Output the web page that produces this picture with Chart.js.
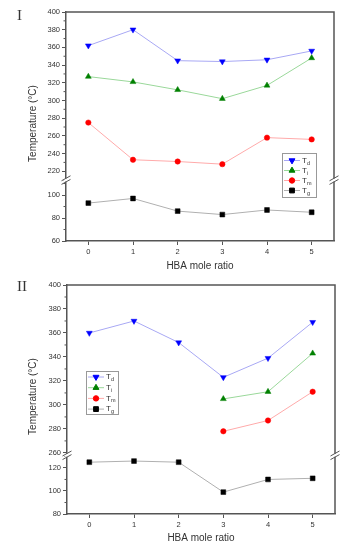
<!DOCTYPE html>
<html>
<head>
<meta charset="utf-8">
<script src="https://cdn.jsdelivr.net/npm/chart.js@4.4.1/dist/chart.umd.min.js"></script>
<style>
  html, body { margin: 0; padding: 0; background: #fff; }
  .panel { position: relative; width: 348px; height: 275px; }
</style>
</head>
<body>
<div class="panel"><canvas id="chartI" width="348" height="275"></canvas></div>
<div class="panel"><canvas id="chartII" width="348" height="275"></canvas></div>
<script>
// HBA mole ratio (x categories)
const ratios = ['0', '1', '2', '3', '4', '5'];

// panel I
const tdI = [362, 380, 345, 344, 346, 356];
const tiI = [327, 321, 312, 302, 317, 348];
const tmI = [275, 233, 231, 228, 258, 256];
const tgI = [93, 97, 86, 83, 87, 85];

// panel II
const tdII = [360, 370, 352, 323, 339, 369];
const tiII = [null, null, null, 305, 311, 343];
const tmII = [null, null, null, 278, 287, 311];
const tgII = [125, 126, 125, 99, 110, 111];

const legendSubs = ['d', 'i', 'm', 'g'];

const axisColor = '#555';
const textColor = '#333';
const tickFont = { family: 'Liberation Sans, Arial, sans-serif', size: 7.5 };

const styles = [
    { line: '#a8a8f4', pt: '#0000ff', shape: 'triangle', rot: 180, r: 3.4 },
    { line: '#9ad89a', pt: '#008000', shape: 'triangle', rot: 0, r: 3.4 },
    { line: '#ffaaaa', pt: '#ff0000', shape: 'circle', rot: 0, r: 2.7 },
    { line: '#b0b0b0', pt: '#000000', shape: 'rect', rot: 0, r: 3.4 }
];

function makeDataset(values, i, axis) {
    const s = styles[i];
    return {
        label: 'T' + legendSubs[i],
        data: values,
        yAxisID: axis,
        borderColor: s.line,
        borderWidth: 1,
        backgroundColor: s.pt,
        pointBackgroundColor: s.pt,
        pointBorderColor: s.pt,
        pointBorderWidth: 0.5,
        pointStyle: s.shape,
        pointRotation: s.rot,
        pointRadius: s.r,
        spanGaps: false
    };
}

// frame, axis breaks, minor ticks, y title, panel label, legend
const decorPlugin = {
    id: 'decor',
    afterDraw(chart, args, opts) {
        const ctx = chart.ctx;
        const a = chart.chartArea;
        const up = chart.scales.yUp;
        const lo = chart.scales.yLo;
        ctx.save();

        // top + right frame
        ctx.strokeStyle = axisColor;
        ctx.lineWidth = 1.5;
        ctx.beginPath();
        ctx.moveTo(a.left, a.top);
        ctx.lineTo(a.right, a.top);
        ctx.lineTo(a.right, a.bottom);
        ctx.stroke();

        // minor ticks on y
        ctx.lineWidth = 1;
        [up, lo].forEach(sc => {
            for (let v = Math.ceil(sc.min / 10) * 10; v <= sc.max; v += 10) {
                if (v % 20 === 0) continue;
                const y = sc.getPixelForValue(v);
                ctx.beginPath();
                ctx.moveTo(a.left - 2.5, y);
                ctx.lineTo(a.left, y);
                ctx.stroke();
            }
        });

        // axis break marks
        const by = up.bottom;
        [a.left, a.right].forEach(x => {
            ctx.fillStyle = '#fff';
            ctx.fillRect(x - 2, by - 1.5, 4, 3);
            ctx.strokeStyle = axisColor;
            ctx.lineWidth = 1;
            [-1.8, 1.8].forEach(d => {
                ctx.beginPath();
                ctx.moveTo(x - 4.5, by + d + 2.5);
                ctx.lineTo(x + 4.5, by + d - 2.5);
                ctx.stroke();
            });
        });

        // y title
        ctx.fillStyle = textColor;
        ctx.font = '10px Liberation Sans, Arial, sans-serif';
        ctx.textAlign = 'center';
        ctx.textBaseline = 'middle';
        ctx.translate(opts.titleX, (a.top + a.bottom) / 2 - 3);
        ctx.rotate(-Math.PI / 2);
        ctx.fillText('Temperature (\u00B0C)', 0, 0);
        ctx.setTransform(1, 0, 0, 1, 0, 0);

        // panel label
        ctx.font = '15px Liberation Serif, Times New Roman, serif';
        ctx.textAlign = 'left';
        ctx.fillText(opts.panel, opts.panelX, opts.panelY);

        // legend
        const L = opts.legend;
        ctx.fillStyle = '#fff';
        ctx.fillRect(L.x, L.y, L.w, L.h);
        ctx.strokeStyle = '#999';
        ctx.lineWidth = 1;
        ctx.strokeRect(L.x + 0.5, L.y + 0.5, L.w, L.h);
        chart.data.datasets.forEach((ds, i) => {
            const s = styles[i];
            const y = L.y + L.first + i * L.step;
            ctx.strokeStyle = s.line;
            ctx.beginPath();
            ctx.moveTo(L.x + 2, y);
            ctx.lineTo(L.x + 18, y);
            ctx.stroke();
            ctx.fillStyle = s.pt;
            ctx.strokeStyle = s.pt;
            Chart.helpers.drawPoint(ctx, { pointStyle: s.shape, rotation: s.rot, radius: s.r, borderWidth: 0.5 }, L.x + 10, y);
            ctx.fillStyle = textColor;
            ctx.textBaseline = 'middle';
            ctx.font = '8px Liberation Sans, Arial, sans-serif';
            ctx.fillText('T', L.x + 20, y);
            ctx.font = '5.5px Liberation Sans, Arial, sans-serif';
            ctx.fillText(legendSubs[i], L.x + 25, y + 2.5);
        });
        ctx.restore();
    }
};

function yTicks() {
    return { stepSize: 20, includeBounds: false, autoSkip: false, font: tickFont, color: textColor, padding: 2 };
}

function makePanel(id, sets, cfg) {
    new Chart(document.getElementById(id), {
        type: 'line',
        data: {
            labels: ratios,
            datasets: [
                makeDataset(sets[0], 0, 'yUp'),
                makeDataset(sets[1], 1, 'yUp'),
                makeDataset(sets[2], 2, 'yUp'),
                makeDataset(sets[3], 3, 'yLo')
            ]
        },
        options: {
            responsive: false,
            animation: false,
            layout: { padding: { top: cfg.top, right: cfg.right, left: 0, bottom: 0 } },
            plugins: {
                legend: { display: false },
                tooltip: { enabled: false },
                decor: cfg.decor
            },
            scales: {
                x: {
                    type: 'category',
                    offset: true,
                    grid: { offset: false, drawOnChartArea: false, tickLength: 4, color: axisColor, lineWidth: 1 },
                    border: { color: axisColor, width: 1.5 },
                    ticks: { font: tickFont, color: textColor, padding: 2, maxRotation: 0 },
                    title: {
                        display: true,
                        text: 'HBA mole ratio',
                        color: textColor,
                        font: { family: 'Liberation Sans, Arial, sans-serif', size: 10 },
                        padding: { top: 0, bottom: cfg.titlePad }
                    },
                    afterFit(s) { s.height = cfg.xHeight; }
                },
                yLo: {
                    type: 'linear',
                    position: 'left',
                    stack: 'temp',
                    stackWeight: 1,
                    min: cfg.lo[0],
                    max: cfg.lo[1],
                    grid: { drawOnChartArea: false, tickLength: 4, color: axisColor },
                    border: { color: axisColor, width: 1.5 },
                    ticks: yTicks(),
                    afterFit(s) { s.width = cfg.yWidth; }
                },
                yUp: {
                    type: 'linear',
                    position: 'left',
                    stack: 'temp',
                    stackWeight: cfg.upWeight,
                    min: cfg.up[0],
                    max: cfg.up[1],
                    grid: { drawOnChartArea: false, tickLength: 4, color: axisColor },
                    border: { color: axisColor, width: 1.5 },
                    ticks: yTicks(),
                    afterFit(s) { s.width = cfg.yWidth; }
                }
            }
        },
        plugins: [decorPlugin]
    });
}

makePanel('chartI', [tdI, tiI, tmI, tgI], {
    top: 12, right: 14, yWidth: 66, xHeight: 34, titlePad: 3,
    up: [210, 400], lo: [60, 113], upWeight: 2.76,
    decor: {
        panel: 'I', panelX: 17, panelY: 16, titleX: 33,
        legend: { x: 282, y: 153, w: 34, h: 44, first: 7.5, step: 10 }
    }
});

makePanel('chartII', [tdII, tiII, tmII, tgII], {
    top: 10, right: 13, yWidth: 67, xHeight: 36, titlePad: 6,
    up: [258, 400], lo: [80, 131], upWeight: 2.9,
    decor: {
        panel: 'II', panelX: 17, panelY: 12, titleX: 33,
        legend: { x: 86, y: 96, w: 32, h: 43, first: 6, step: 10.7 }
    }
});
</script>
</body>
</html>
